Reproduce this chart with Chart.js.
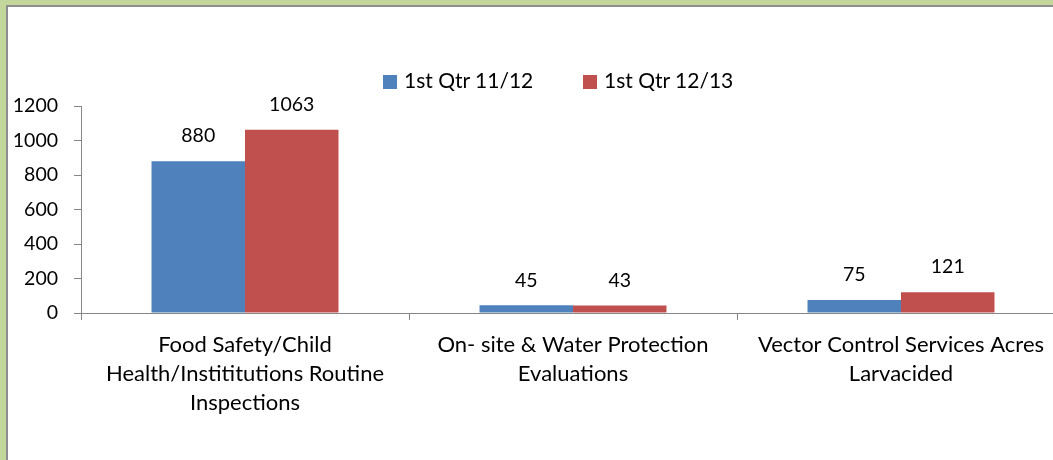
<!DOCTYPE html>
<html>
<head>
<meta charset="utf-8">
<script src="https://cdn.jsdelivr.net/npm/chart.js@4/dist/chart.umd.min.js"></script>
<style>
    html, body {
        margin: 0;
        padding: 0;
        width: 1053px;
        height: 460px;
        overflow: hidden;
        background: #c3d69b;
        font-family: Lato, "Open Sans", sans-serif;
    }
    .frame {
        position: absolute;
        left: 6px;
        top: 5px;
        width: 1100px;
        height: 500px;
        border-top: 2px solid #8e8e8e;
        border-left: 2px solid #8e8e8e;
        background: #fff;
        overflow: hidden;
    }
    .chart-wrapper {
        position: absolute;
        left: 0;
        top: 0;
        width: 1060px;
        height: 453px;
    }
    .legend-item {
        position: absolute;
        top: 59px;
        font-size: 21px;
        line-height: 28px;
        color: #000;
        white-space: nowrap;
    }
    .legend-item span {
        display: inline-block;
        width: 14px;
        height: 14px;
        margin-right: 7px;
        vertical-align: -1px;
    }
</style>
</head>
<body>
<div class="frame">
    <div class="chart-wrapper"><canvas id="chart1"></canvas></div>
    <div id="legend"></div>
</div>
<script>
const categories = [
    ['Food Safety/Child', 'Health/Instititutions Routine', 'Inspections'],
    ['On- site & Water Protection', 'Evaluations'],
    ['Vector Control Services Acres', 'Larvacided']
];
const seriesNames = ['1st Qtr 11/12', '1st Qtr 12/13'];
const qtr1112 = [880, 45, 75];
const qtr1213 = [1063, 43, 121];
const seriesColors = ['#4f81bd', '#c0504d'];
const yTicks = [0, 200, 400, 600, 800, 1000, 1200];

const fontFamily = 'Lato, "Open Sans", sans-serif';

// legend drawn as html, one item per series
const legendLeft = [375, 575];
const legend = document.getElementById('legend');
seriesNames.forEach((name, i) => {
    const item = document.createElement('div');
    item.className = 'legend-item';
    item.style.left = legendLeft[i] + 'px';
    item.innerHTML = '<span style="background:' + seriesColors[i] + '"></span>' + name;
    legend.appendChild(item);
});

// value labels above each bar
const barLabels = {
    id: 'barLabels',
    afterDatasetsDraw(chart) {
        const ctx = chart.ctx;
        ctx.save();
        ctx.font = '19.5px ' + fontFamily;
        ctx.fillStyle = '#000';
        ctx.textAlign = 'center';
        ctx.textBaseline = 'middle';
        chart.data.datasets.forEach((dataset, d) => {
            chart.getDatasetMeta(d).data.forEach((bar, i) => {
                ctx.fillText(dataset.data[i], bar.x, bar.y - 25);
            });
        });
        ctx.restore();
    }
};

const axisGrey = '#868686';

const ctx = document.getElementById('chart1').getContext('2d');
const chart1 = new Chart(ctx, {
    type: 'bar',
    data: {
        labels: categories,
        datasets: [
            { label: seriesNames[0], data: qtr1112, backgroundColor: seriesColors[0] },
            { label: seriesNames[1], data: qtr1213, backgroundColor: seriesColors[1] }
        ]
    },
    options: {
        responsive: true,
        maintainAspectRatio: false,
        animation: false,
        categoryPercentage: 0.57,
        barPercentage: 1,
        layout: {
            padding: { top: 99, left: 0, right: 3, bottom: 0 }
        },
        scales: {
            x: {
                grid: {
                    drawOnChartArea: false,
                    drawTicks: true,
                    tickLength: 7,
                    color: axisGrey
                },
                border: { color: axisGrey, width: 1 },
                ticks: {
                    color: '#000',
                    padding: 10,
                    maxRotation: 0,
                    autoSkip: false,
                    font: { family: fontFamily, size: 22, lineHeight: 1.32 }
                },
                afterFit: function(scale) {
                    scale.height = 147;
                }
            },
            y: {
                min: 0,
                max: 1200,
                afterBuildTicks: function(scale) {
                    scale.ticks = yTicks.map(v => ({ value: v }));
                },
                grid: {
                    drawOnChartArea: false,
                    drawTicks: true,
                    tickLength: 7,
                    color: axisGrey
                },
                border: { color: axisGrey, width: 1 },
                ticks: {
                    color: '#000',
                    padding: 16,
                    font: { family: fontFamily, size: 19.5 },
                    callback: function(value) {
                        return String(value);
                    }
                },
                afterFit: function(scale) {
                    scale.width = 73;
                }
            }
        },
        plugins: {
            legend: { display: false },
            tooltip: { enabled: false }
        }
    },
    plugins: [barLabels]
});
</script>
</body>
</html>
